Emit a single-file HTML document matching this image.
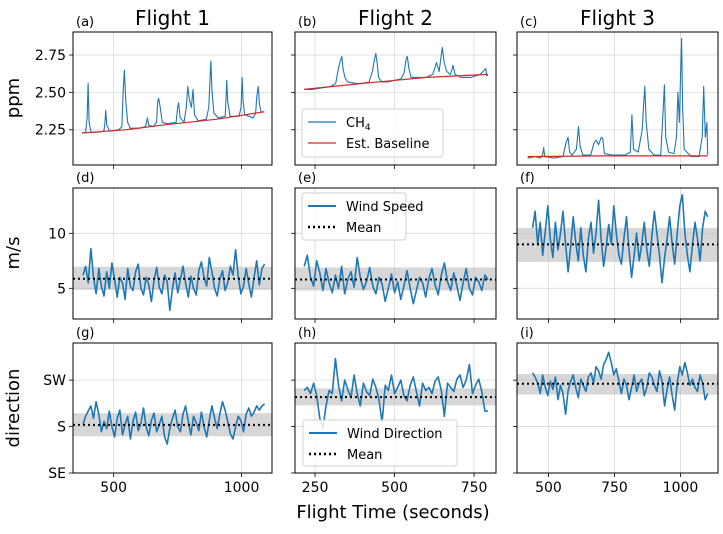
<!DOCTYPE html>
<html><head><meta charset="utf-8"><style>
body{margin:0;background:#fff}
svg{font-family:"DejaVu Sans","Liberation Sans",sans-serif}
</style></head><body>
<svg id="fig" width="723" height="529" viewBox="0 0 723 529" xmlns="http://www.w3.org/2000/svg"></svg>
<script>
// ---------- data ----------
const ch4F1 = [[377,2.23],[390,2.23],[396,2.33],[400,2.56],[404,2.30],[412,2.23],[440,2.235],[462,2.24],[466,2.30],[469,2.38],[473,2.28],[485,2.24],[520,2.25],[532,2.27],[537,2.50],[542,2.65],[547,2.45],[555,2.30],[565,2.26],[600,2.26],[625,2.27],[632,2.33],[637,2.28],[655,2.27],[668,2.30],[672,2.44],[676,2.46],[682,2.40],[690,2.30],[710,2.29],[744,2.30],[750,2.40],[754,2.43],[760,2.33],[775,2.30],[784,2.40],[790,2.54],[796,2.45],[804,2.40],[810,2.52],[816,2.35],[830,2.31],[862,2.32],[872,2.40],[877,2.60],[880,2.71],[884,2.52],[892,2.36],[910,2.33],[936,2.34],[940,2.48],[942,2.58],[946,2.44],[955,2.34],[990,2.34],[998,2.40],[1002,2.60],[1006,2.44],[1012,2.35],[1030,2.34],[1045,2.33],[1055,2.36],[1060,2.48],[1065,2.54],[1070,2.42],[1076,2.37],[1089,2.37]];
const baseF1 = [[377,2.228],[550,2.25],[700,2.283],[900,2.32],[1089,2.37]];
const ch4F2 = [[216,2.52],[240,2.52],[270,2.53],[300,2.54],[315,2.56],[322,2.64],[328,2.70],[334,2.74],[338,2.66],[344,2.60],[352,2.57],[380,2.56],[400,2.56],[420,2.57],[430,2.64],[437,2.72],[441,2.76],[445,2.70],[450,2.60],[460,2.57],[480,2.57],[500,2.58],[520,2.59],[530,2.63],[536,2.72],[540,2.74],[545,2.66],[552,2.60],[575,2.60],[600,2.60],[620,2.62],[632,2.70],[640,2.64],[650,2.80],[656,2.70],[664,2.64],[676,2.62],[684,2.68],[690,2.62],[710,2.60],[740,2.60],[770,2.62],[787,2.66],[790,2.61],[794,2.62]];
const baseF2 = [[216,2.52],[400,2.56],[600,2.60],[794,2.62]];
const ch4F3 = [[421,2.06],[450,2.07],[470,2.06],[478,2.08],[482,2.13],[486,2.07],[520,2.06],[555,2.07],[566,2.16],[574,2.20],[580,2.10],[590,2.08],[606,2.12],[614,2.27],[620,2.14],[630,2.08],[660,2.08],[672,2.16],[680,2.18],[690,2.15],[700,2.20],[706,2.19],[712,2.09],[740,2.08],[790,2.08],[810,2.10],[816,2.35],[822,2.12],[840,2.10],[855,2.25],[860,2.40],[865,2.54],[870,2.30],[880,2.12],[900,2.08],[925,2.08],[935,2.40],[939,2.55],[944,2.20],[955,2.10],[975,2.09],[985,2.20],[990,2.50],[996,2.30],[1000,2.60],[1004,2.86],[1008,2.40],[1014,2.12],[1040,2.07],[1070,2.07],[1082,2.20],[1088,2.54],[1094,2.20],[1100,2.30],[1103,2.08]];
const baseF3 = [[421,2.07],[700,2.075],[1103,2.075]];

const spdF1 = [6.2,7.0,5.5,8.6,6.0,4.5,6.8,5.2,4.3,6.5,5.0,7.3,5.8,4.2,6.0,5.5,4.0,6.8,5.2,4.8,6.5,7.2,5.0,4.4,6.0,5.3,3.8,5.7,6.9,5.1,4.5,6.2,5.6,3.0,5.0,6.4,4.6,5.8,7.0,5.5,4.2,6.1,5.0,4.4,6.6,7.4,6.0,5.2,7.8,6.5,5.0,4.3,5.8,6.6,4.8,5.5,7.0,6.2,8.5,6.0,4.5,5.2,6.8,5.4,4.2,6.0,7.5,5.3,6.8,7.2];
const spdF2 = [7.0,8.0,6.0,5.2,7.5,6.4,4.8,6.8,5.5,4.6,6.2,5.0,7.0,4.5,5.8,6.5,5.1,7.8,6.0,4.9,5.6,6.9,5.2,4.5,6.0,5.4,3.8,5.0,6.3,4.6,5.6,4.0,5.2,6.6,5.0,3.6,4.8,6.0,5.5,4.2,5.9,6.8,5.3,4.4,6.2,7.3,5.6,4.8,6.4,5.2,3.9,5.5,6.8,5.0,4.4,6.0,5.6,4.8,6.2,5.8];
const spdF3 = [10.5,12.0,9.0,11.0,8.0,10.2,12.5,9.5,7.8,11.0,8.5,10.0,12.0,9.0,6.5,8.8,11.5,9.2,7.5,10.5,8.0,6.5,9.5,11.0,8.2,10.0,13.0,9.5,7.0,8.8,10.8,9.0,12.5,10.0,8.0,7.2,9.5,11.5,8.5,6.0,8.0,10.0,7.5,9.0,11.0,8.5,7.0,9.8,12.0,10.0,8.0,5.5,7.8,9.5,11.5,9.0,7.2,10.0,12.5,13.5,10.0,8.0,6.5,9.0,11.0,9.5,7.5,10.5,12.0,11.5];
const spdMean = [5.87, 5.8, 9.0];
const spdBand = [[4.85,6.96],[4.8,6.9],[7.4,10.5]];

const dirF1 = [182,190,195,200,188,204,192,175,185,178,195,180,170,188,196,172,182,190,168,185,194,176,183,198,180,171,186,193,175,182,190,170,163,178,188,196,180,175,192,200,185,172,190,184,176,194,180,170,186,200,188,178,192,204,196,185,173,168,180,190,186,175,192,198,190,194,200,196,200,202];
const dirF2 = [215,218,212,222,210,188,178,200,215,212,246,220,205,225,216,208,230,212,200,222,214,210,226,218,206,184,220,215,230,212,218,225,210,205,220,228,214,200,222,215,218,212,224,228,215,190,222,218,214,226,230,218,225,240,212,220,226,214,195,195];
const dirF3 = [232,228,222,212,230,218,210,224,216,228,206,220,212,192,215,224,230,218,208,226,220,214,228,232,222,238,234,226,240,245,252,242,230,236,224,212,226,220,206,218,230,214,222,226,210,218,232,228,220,214,234,224,200,216,228,210,196,222,238,230,242,232,220,226,218,214,230,222,206,212];
const dirMean = [181.6, 208.6, 221.5];
const dirBand = [[170.6,193],[200.5,217],[211,231]];

const flightSpan = [[380,1090],[216,794],[440,1103]];
const xTicks = [[500,1000],[250,500,750],[500,750,1000]];
const ch4Ticks = [2.25,2.50,2.75];
const ch4TickLabels = ["2.25","2.50","2.75"];
const spdTicks = [5,10];
const spdTickLabels = ["5","10"];
const dirTicks = [135,180,225];
const dirTickLabels = ["SE","S","SW"];
const panelLetters = [["(a)","(b)","(c)"],["(d)","(e)","(f)"],["(g)","(h)","(i)"]];

// ---------- layout ----------
const colX = [[73,272],[295,496],[517,718]];
const rowY = [[32,165],[188,319],[343,473]];
const xDom = [[341,1119],[187,819],[381,1142]];
const yDom = [[2.014,2.904],[2.21,14.12],[135,261]];
const BLUE = "#1f77b4", RED = "#d62728";

const svg = document.getElementById('fig');
const NS = "http://www.w3.org/2000/svg";
function mk(tag, attrs, parent){
  const e = document.createElementNS(NS, tag);
  for (const k in attrs) e.setAttribute(k, attrs[k]);
  (parent||svg).appendChild(e);
  return e;
}
function sx(c, v){ const [a,b]=colX[c], [d0,d1]=xDom[c]; return a+(v-d0)/(d1-d0)*(b-a); }
function sy(r, v){ const [t,bt]=rowY[r], [d0,d1]=yDom[r]; return bt-(v-d0)/(d1-d0)*(bt-t); }
function pathPairs(c,r,pairs){ return pairs.map((p,i)=>(i?'L':'M')+sx(c,p[0]).toFixed(1)+','+sy(r,p[1]).toFixed(1)).join(''); }
function pathSeries(c,r,vals){
  const [t0,t1]=flightSpan[c];
  return vals.map((v,i)=>{const t=t0+(t1-t0)*i/(vals.length-1);return (i?'L':'M')+sx(c,t).toFixed(1)+','+sy(r,v).toFixed(1);}).join('');
}
function txt(x,y,s,size,anchor,parent,extra){
  const t = mk('text', Object.assign({x:x,y:y,'font-size':size,'text-anchor':anchor||'start',fill:'#000'}, extra||{}), parent);
  t.textContent = s; return t;
}

const ch4Data = [ch4F1,ch4F2,ch4F3], baseData=[baseF1,baseF2,baseF3];
const spdData = [spdF1,spdF2,spdF3], dirData=[dirF1,dirF2,dirF3];
const yTicksR = [ch4Ticks,spdTicks,dirTicks], yLabR=[ch4TickLabels,spdTickLabels,dirTickLabels];

for (let r=0;r<3;r++){
  for (let c=0;c<3;c++){
    const g = mk('g',{});
    
    
    const [x0,x1]=colX[c],[y0,y1]=rowY[r];
    const cp = mk('clipPath',{id:'cp'+r+c},g);
    mk('rect',{x:x0,y:y0,width:x1-x0,height:y1-y0},cp);
    xTicks[c].forEach(v=>{
      const gl = mk('line',{x1:sx(c,v),x2:sx(c,v),y1:y0,y2:y1,stroke:'#d9d9d9','stroke-width':0.8},g);
      
      
      mk('line',{x1:sx(c,v),x2:sx(c,v),y1:y1,y2:y1+4,stroke:'#000','stroke-width':0.8},g);
      if (r===2){
        const tl = txt(sx(c,v), y1+19, String(v), 14, 'middle', g);
        
        
      }
    });
    yTicksR[r].forEach((v,i)=>{
      const yy = sy(r,v);
      if (yy>=y0-0.5 && yy<=y1+0.5){
        mk('line',{x1:x0,x2:x1,y1:yy,y2:yy,stroke:'#d9d9d9','stroke-width':0.8},g);
        mk('line',{x1:x0-4,x2:x0,y1:yy,y2:yy,stroke:'#000','stroke-width':0.8},g);
        if (c===0){
          const tl = txt(x0-7, yy+5, yLabR[r][i], 14, 'end', g);
          
          
        }
      }
    });
    const inner = mk('g',{'clip-path':'url(#cp'+r+c+')'},g);
    if (r===0){
      const l = mk('path',{d:pathPairs(c,0,ch4Data[c]),fill:'none',stroke:BLUE,'stroke-width':1.1,'stroke-linejoin':'round'},inner);
      
      
      const b = mk('path',{d:pathPairs(c,0,baseData[c]),fill:'none',stroke:RED,'stroke-width':1.2},inner);
      
      
    } else {
      const band = r===1?spdBand[c]:dirBand[c], mean = r===1?spdMean[c]:dirMean[c];
      const vals = r===1?spdData[c]:dirData[c];
      const bd = mk('rect',{x:x0,width:x1-x0,y:sy(r,band[1]),height:sy(r,band[0])-sy(r,band[1]),fill:'#bdbdbd','fill-opacity':0.6},inner);
      
      
      const l = mk('path',{d:pathSeries(c,r,vals),fill:'none',stroke:BLUE,'stroke-width':1.6,'stroke-linejoin':'round'},inner);
      
      
      const m = mk('line',{x1:x0,x2:x1,y1:sy(r,mean),y2:sy(r,mean),stroke:'#000','stroke-width':2,'stroke-dasharray':'2,3'},inner);
      
      
    }
    mk('rect',{x:x0,y:y0,width:x1-x0,height:y1-y0,fill:'none',stroke:'#000','stroke-width':1},g);
    const pl = txt(x0+3, y0-6, panelLetters[r][c], 13, 'start', g);
    
    
  }
}
["Flight 1","Flight 2","Flight 3"].forEach((s,c)=>{
  const t = txt((colX[c][0]+colX[c][1])/2, 25, s, 20, 'middle');
  
  
});
[["ppm",98],["m/s",253],["direction",408]].forEach(([s,y])=>{
  const t = txt(0,0,s,18,'middle',null,{transform:'translate(19,'+y+') rotate(-90)'});
  
  
});
const xl = txt(393, 518, "Flight Time (seconds)", 18, 'middle');



function legend(x,y,w,h,items,name){
  const g = mk('g',{});
  
  
  mk('rect',{x:x,y:y,width:w,height:h,rx:3,fill:'#fff','fill-opacity':0.85,stroke:'#d0d0d0','stroke-width':1},g);
  items.forEach((it,i)=>{
    const yy = y+13+i*21;
    const attrs = {x1:x+6,x2:x+34,y1:yy,y2:yy,stroke:it.color,'stroke-width':it.w};
    if (it.dash) attrs['stroke-dasharray']=it.dash;
    mk('line',attrs,g);
    const t = txt(x+44, yy+5, '', 13, 'start', g);
    
    
    if (it.label==='CH4'){
      t.textContent='CH';
      const s = mk('tspan',{'font-size':9,dy:3},t); s.textContent='4';
    } else t.textContent = it.label;
  });
}
legend(302,109,141,48,[{label:'CH4',color:BLUE,w:1.2},{label:'Est. Baseline',color:RED,w:1.2}],'ch4-legend');
legend(302,193,104,47,[{label:'Wind Speed',color:BLUE,w:2},{label:'Mean',color:'#000',w:2.5,dash:'2,3'}],'speed-legend');
legend(303,420,154,46,[{label:'Wind Direction',color:BLUE,w:2},{label:'Mean',color:'#000',w:2.5,dash:'2,3'}],'direction-legend');
</script>
</body></html>
